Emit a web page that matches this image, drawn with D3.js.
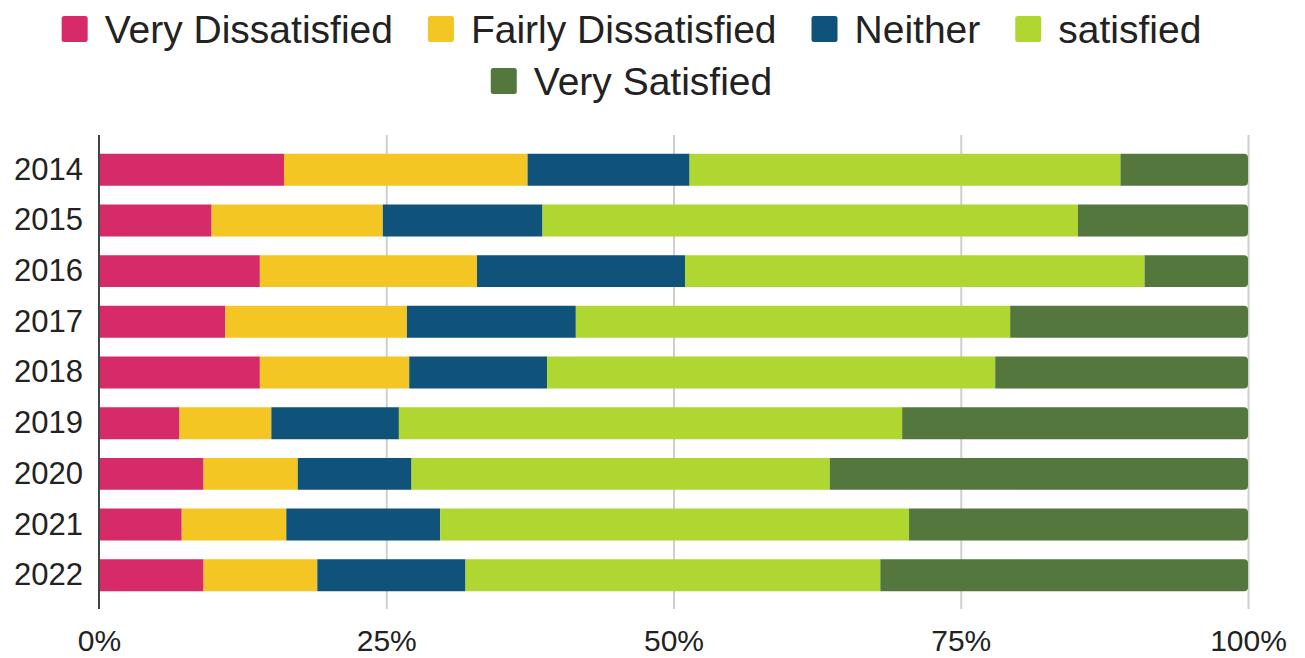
<!DOCTYPE html>
<html>
<head>
<meta charset="utf-8">
<script src="https://cdn.jsdelivr.net/npm/d3@7"></script>
<style>
  html, body { margin: 0; padding: 0; background: #fff; }
  svg { display: block; font-family: "Liberation Sans", Arial, sans-serif; }
</style>
</head>
<body>
<svg id="chart" width="1305" height="658"></svg>
<script>
// Survey years (one bar per year)
const years = ["2014", "2015", "2016", "2017", "2018", "2019", "2020", "2021", "2022"];

// Share of respondents (%) in each satisfaction band, by year
const veryDissatisfied   = [16.1,  9.8, 14.0, 11.0, 14.0,  7.0,  9.1,  7.2,  9.1];
const fairlyDissatisfied = [21.2, 14.9, 18.9, 15.8, 13.0,  8.0,  8.2,  9.1,  9.9];
const neither            = [14.1, 13.9, 18.1, 14.7, 12.0, 11.1,  9.9, 13.4, 12.9];
const satisfied          = [37.5, 46.6, 40.0, 37.8, 39.0, 43.8, 36.4, 40.8, 36.1];
const verySatisfied      = [11.1, 14.8,  9.0, 20.7, 22.0, 30.1, 36.4, 29.5, 32.0];

const seriesNames = ["Very Dissatisfied", "Fairly Dissatisfied", "Neither", "satisfied", "Very Satisfied"];
const seriesColors = ["#d72a68", "#f4c624", "#10537a", "#b0d631", "#53773d"];
const seriesValues = [veryDissatisfied, fairlyDissatisfied, neither, satisfied, verySatisfied];

const xTicks = [0, 25, 50, 75, 100];

const svg = d3.select("#chart");

const rows = years.map((y, i) => {
  const r = { year: y };
  seriesNames.forEach((n, k) => { r[n] = seriesValues[k][i]; });
  return r;
});

const plot = { left: 99, right: 1248, top: 135, bottom: 609 };

const x = d3.scaleLinear().domain([0, 100]).range([plot.left, plot.right]);
const y = d3.scaleBand().domain(years).range([plot.top + 1, plot.bottom])
  .paddingInner(0.37).paddingOuter(0.35);

// Vertical gridlines
svg.append("g")
  .selectAll("line")
  .data(xTicks.filter(t => t > 0))
  .join("line")
  .attr("x1", d => x(d) + 0.5).attr("x2", d => x(d) + 0.5)
  .attr("y1", plot.top).attr("y2", plot.bottom)
  .attr("stroke", "#cfcfcf")
  .attr("stroke-width", 2);

// Stacked bars
const stack = d3.stack().keys(seriesNames);
const layers = stack(rows);
const radius = 4;

function roundedRight(x0, y0, w, h, r) {
  r = Math.min(r, w, h / 2);
  return `M${x0},${y0}H${x0 + w - r}Q${x0 + w},${y0} ${x0 + w},${y0 + r}` +
         `V${y0 + h - r}Q${x0 + w},${y0 + h} ${x0 + w - r},${y0 + h}H${x0}Z`;
}

const layerG = svg.append("g")
  .selectAll("g")
  .data(layers)
  .join("g")
  .attr("fill", (d, i) => seriesColors[i]);

layerG.selectAll("path")
  .data(d => d.map(s => ({ s, last: d.index === seriesNames.length - 1 })))
  .join("path")
  .attr("d", d => {
    const x0 = x(d.s[0]), w = x(d.s[1]) - x(d.s[0]);
    const y0 = y(d.s.data.year), h = y.bandwidth();
    return d.last ? roundedRight(x0, y0, w, h, radius)
                  : `M${x0},${y0}h${w}v${h}h${-w}Z`;
  });

// Y axis: year labels and the baseline
const yAxis = svg.append("g")
  .attr("transform", `translate(${plot.left},0)`)
  .call(d3.axisLeft(y).tickSize(0).tickPadding(16));
yAxis.select(".domain").remove();
yAxis.selectAll("text")
  .attr("font-size", 31)
  .attr("font-family", "Liberation Sans, Arial, sans-serif")
  .attr("fill", "#222");

svg.append("line")
  .attr("x1", plot.left).attr("x2", plot.left)
  .attr("y1", plot.top).attr("y2", plot.bottom)
  .attr("stroke", "#444")
  .attr("stroke-width", 2);

// X axis percentage labels
const xAxis = svg.append("g")
  .attr("transform", `translate(0,${plot.bottom})`)
  .call(d3.axisBottom(x).tickValues(xTicks).tickFormat(d => d + "%").tickSize(0).tickPadding(21));
xAxis.select(".domain").remove();
xAxis.selectAll("text")
  .attr("font-size", 30)
  .attr("font-family", "Liberation Sans, Arial, sans-serif")
  .attr("fill", "#222");

// Legend: two centred rows
const legendRows = [[0, 1, 2, 3], [4]];
const legendFont = 39;
const swatch = 26;
const swatchGap = 17;   // swatch to label
const itemGap = 35;     // label to next swatch
const baselines = [43, 95];
const legendCenter = 631.5;

const legend = svg.append("g").attr("font-size", legendFont).attr("fill", "#222");

legendRows.forEach((idxs, r) => {
  const row = legend.append("g");
  let cx = 0;
  idxs.forEach((k, j) => {
    const item = row.append("g").attr("transform", `translate(${cx},0)`);
    item.append("rect")
      .attr("x", 0).attr("y", baselines[r] - 27)
      .attr("width", swatch).attr("height", swatch)
      .attr("rx", 2.5)
      .attr("fill", seriesColors[k]);
    const t = item.append("text")
      .attr("x", swatch + swatchGap).attr("y", baselines[r])
      .text(seriesNames[k]);
    cx += swatch + swatchGap + t.node().getComputedTextLength() + (j < idxs.length - 1 ? itemGap : 0);
  });
  row.attr("transform", `translate(${legendCenter - cx / 2},0)`);
});
</script>
</body>
</html>
